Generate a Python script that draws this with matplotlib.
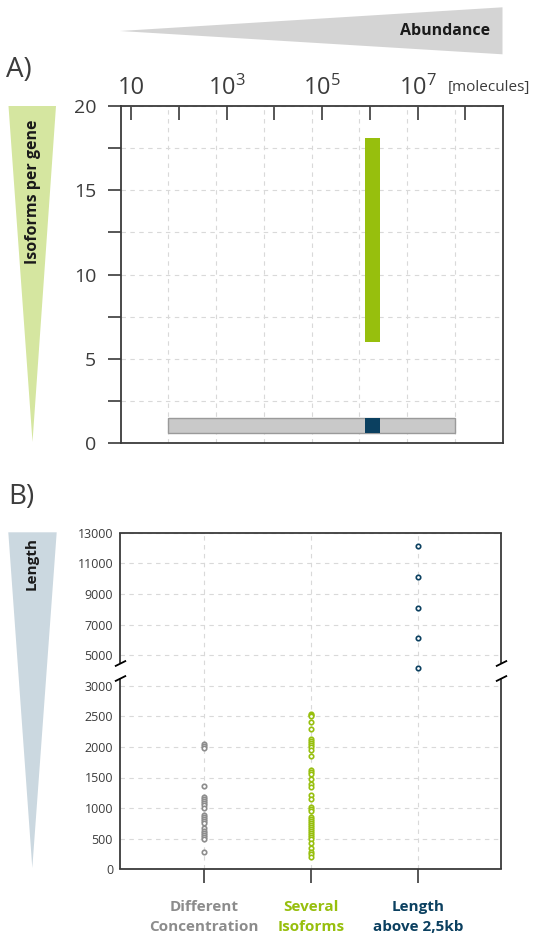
import matplotlib
matplotlib.use("Agg")
import matplotlib.pyplot as plt
import numpy as np
from matplotlib.patches import Polygon
from matplotlib.ticker import FixedLocator, NullFormatter

# Panel A data: abundance ranges (molecules) and isoforms per gene
conc_range = [60, 6e7]           # different concentration, abundance span
conc_isoforms = [0.6, 1.5]       # isoforms span for that bar
iso_abundance = [8e5, 1.66e6]    # several isoforms / long genes, abundance span
iso_isoforms = [6, 18.1]         # several isoforms span
long_isoforms = [0.6, 1.5]       # length above 2.5kb span
abund_ticks = [1e1, 1e2, 1e3, 1e4, 1e5, 1e6, 1e7, 1e8]
abund_labels = ["10", "", r"$\mathregular{10^3}$", "", r"$\mathregular{10^5}$", "",
                r"$\mathregular{10^7}$", ""]
abund_grid = [6e1, 6e2, 6e3, 6e4, 6e5, 6e6, 6e7]
iso_ticks = [0, 5, 10, 15, 20]
iso_minor = [2.5, 7.5, 12.5, 17.5]

# Panel B data: transcript lengths per group
categories = ["Different\nConcentration", "Several\nIsoforms", "Length\nabove 2,5kb"]
len_concentration = [2054, 2021, 1983, 1363, 1174, 1141, 1109, 1076, 1043, 1004,
                     885, 853, 820, 783, 750, 668, 630, 587, 554, 522, 489, 282]
len_isoforms = [2543, 2521, 2499, 2412, 2288, 2135, 2103, 2070, 2037, 2005, 1945,
                1847, 1619, 1587, 1554, 1483, 1391, 1347, 1206, 1141, 1010, 978,
                945, 847, 815, 782, 750, 717, 685, 652, 619, 587, 554, 522, 489,
                424, 342, 288, 250, 206]
len_long = [12100, 10100, 8100, 6100, 4150]
length_ticks = [0, 500, 1000, 1500, 2000, 2500, 3000, 5000, 7000, 9000, 11000, 13000]

GRAY = "#8c8c8c"
GREEN = "#97bf0d"
NAVY = "#0b4060"
TXT = "#3c3c3c"
SPINE = "#3a3a3a"
GRID = "#d9d9d9"


def fwd(y):
    y = np.asarray(y, dtype=float)
    return np.where(y <= 3000, y, 3000 + (y - 3000) / 4)


def inv(v):
    v = np.asarray(v, dtype=float)
    return np.where(v <= 3000, v, 3000 + (v - 3000) * 4)


def px(x, y):
    return (x / 539, 1 - y / 936)


def main():
    plt.rcParams['font.family'] = ['Open Sans', 'DejaVu Sans']
    plt.rcParams['mathtext.fontset'] = 'custom'
    plt.rcParams['mathtext.rm'] = 'Open Sans'
    plt.rcParams['mathtext.it'] = 'Open Sans:italic'
    plt.rcParams['mathtext.bf'] = 'Open Sans:bold'

    fig = plt.figure(figsize=(5.39, 9.36), dpi=100)

    # ---- Panel A
    axA = fig.add_axes([120.5/539, 1-443/936, 382/539, 337/936])
    axA.set_xscale('log')
    axA.set_xlim(6, 6e8)
    axA.set_ylim(0, 20)

    axA.barh((conc_isoforms[0]+conc_isoforms[1])/2, conc_range[1]-conc_range[0],
             left=conc_range[0], height=conc_isoforms[1]-conc_isoforms[0],
             color="#c9c9c9", edgecolor="#9a9a9a", linewidth=1.0, zorder=3)
    axA.barh((iso_isoforms[0]+iso_isoforms[1])/2, iso_abundance[1]-iso_abundance[0],
             left=iso_abundance[0], height=iso_isoforms[1]-iso_isoforms[0],
             color=GREEN, linewidth=0, zorder=3)
    axA.barh((long_isoforms[0]+long_isoforms[1])/2, iso_abundance[1]-iso_abundance[0],
             left=iso_abundance[0], height=long_isoforms[1]-long_isoforms[0],
             color=NAVY, linewidth=0, zorder=4)

    axA.xaxis.tick_top()
    axA.xaxis.set_major_locator(FixedLocator(abund_ticks))
    axA.set_xticklabels(abund_labels)
    axA.xaxis.set_minor_locator(FixedLocator(abund_grid))
    axA.xaxis.set_minor_formatter(NullFormatter())
    axA.tick_params(axis='x', which='major', direction='in', length=10, width=1.2,
                    color=SPINE, labelsize=17, labelcolor=TXT, pad=4)
    axA.tick_params(axis='x', which='minor', length=0)

    axA.yaxis.set_major_locator(FixedLocator(iso_ticks))
    axA.yaxis.set_minor_locator(FixedLocator(iso_minor))
    axA.tick_params(axis='y', which='both', direction='out', length=9.5, width=1.2,
                    color=SPINE, labelsize=14, labelcolor=TXT, pad=8)
    axA.grid(which='major', axis='y', color=GRID, linestyle=(0, (4, 4)), linewidth=0.8)
    axA.grid(which='minor', axis='both', color=GRID, linestyle=(0, (4, 4)), linewidth=0.8)
    axA.set_axisbelow(True)
    for s in axA.spines.values():
        s.set_color(SPINE)
        s.set_linewidth(1.3)

    # ---- Panel B
    axB = fig.add_axes([120/539, 1-869.3/936, 381/539, 336.6/936])
    axB.set_yscale('function', functions=(fwd, inv))
    x = [1, 2, 3]
    mk = dict(marker='o', linestyle='none', markerfacecolor='white', markersize=3.2,
              markeredgewidth=1.2, zorder=3, clip_on=False)
    axB.plot([x[0]]*len(len_concentration), len_concentration, markeredgecolor=GRAY, **mk)
    axB.plot([x[1]]*len(len_isoforms), len_isoforms, markeredgecolor=GREEN, **mk)
    axB.plot([x[2]]*len(len_long), len_long, markeredgecolor=NAVY, **mk)
    axB.set_xlim(0.21, 3.78)
    axB.set_ylim(0, 13000)
    axB.yaxis.set_major_locator(FixedLocator(length_ticks))
    axB.set_yticklabels([str(t) for t in length_ticks])
    axB.yaxis.set_minor_locator(FixedLocator([]))
    axB.tick_params(axis='y', length=0, labelsize=9, labelcolor=TXT, pad=5)
    axB.set_xticks(x)
    axB.set_xticklabels(categories, fontweight='bold', fontsize=11, linespacing=1.6)
    for lab, c in zip(axB.get_xticklabels(), [GRAY, GREEN, NAVY]):
        lab.set_color(c)
    axB.tick_params(axis='x', direction='out', length=10, width=1.2, color=SPINE, pad=12)
    axB.grid(True, color=GRID, linestyle=(0, (4, 4)), linewidth=0.8)
    axB.set_axisbelow(True)
    for s in axB.spines.values():
        s.set_color(SPINE)
        s.set_linewidth(1.3)
    # broken left/right spines
    axB.spines['left'].set_visible(False)
    axB.spines['right'].set_visible(False)
    up0 = (869.3 - 663.3) / 336.6
    lo1 = (869.3 - 677.7) / 336.6
    for xs in [0, 1]:
        axB.plot([xs, xs], [up0, 1], transform=axB.transAxes, color=SPINE, lw=1.3,
                 clip_on=False, solid_capstyle='butt')
        axB.plot([xs, xs], [0, lo1], transform=axB.transAxes, color=SPINE, lw=1.3,
                 clip_on=False, solid_capstyle='butt')
        axB.plot([xs, xs], [up0, lo1], transform=axB.transAxes, linestyle='none',
                 marker=[(-1, -0.5), (1, 0.5)], markersize=8, markeredgewidth=1.3,
                 color='black', clip_on=False)

    # ---- decorations: wedges and labels
    fig.add_artist(Polygon([px(120, 31), px(502.5, 7.3), px(502.5, 54.3)],
                           closed=True, transform=fig.transFigure,
                           facecolor="#d4d4d4", edgecolor='none'))
    fig.add_artist(Polygon([px(8.5, 106), px(56, 106), px(32.5, 442)],
                           closed=True, transform=fig.transFigure,
                           facecolor="#d5e6a0", edgecolor='none'))
    fig.add_artist(Polygon([px(8.3, 532.3), px(56.7, 532.3), px(32.3, 868)],
                           closed=True, transform=fig.transFigure,
                           facecolor="#cbd8e0", edgecolor='none'))

    fig.text(*px(490, 31), "Abundance", ha='right', va='center', fontsize=11.5,
             fontweight='bold', color='#1a1a1a')
    fig.text(*px(33, 119), "Isoforms per gene", rotation=90, ha='center', va='top',
             fontsize=11.5, fontweight='bold', color='#1a1a1a')
    fig.text(*px(31.5, 563), "Length", rotation=90, ha='center', va='center',
             fontsize=11, fontweight='bold', color='#1a1a1a')
    fig.text(*px(6, 70), "A)", ha='left', va='center', fontsize=20, color=TXT)
    fig.text(*px(8, 497), "B)", ha='left', va='center', fontsize=20, color=TXT)
    fig.text(*px(448, 87), "[molecules]", ha='left', va='center', fontsize=11, color=TXT)

    fig.savefig("out.png", dpi=100)


if __name__ == "__main__":
    main()
